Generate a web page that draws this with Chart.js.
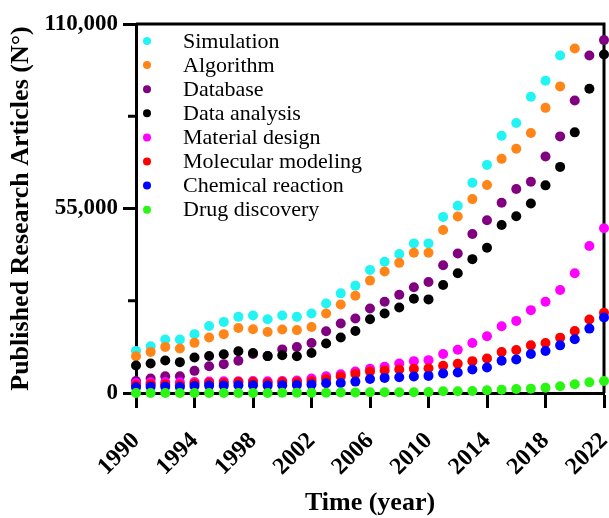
<!DOCTYPE html>
<html>
<head>
<meta charset="utf-8">
<script src="https://cdn.jsdelivr.net/npm/chart.js@4.4.1/dist/chart.umd.min.js"></script>
<style>
  html, body { margin: 0; padding: 0; background: #fff; }
  #wrap { width: 609px; height: 518px; }
</style>
</head>
<body>
<div id="wrap"><canvas id="grafico" width="609" height="518"></canvas></div>
<script>
// --- DATA ---
const YEARS = [1990, 1991, 1992, 1993, 1994, 1995, 1996, 1997, 1998, 1999, 2000,
  2001, 2002, 2003, 2004, 2005, 2006, 2007, 2008, 2009, 2010, 2011,
  2012, 2013, 2014, 2015, 2016, 2017, 2018, 2019, 2020, 2021, 2022];

const SIMULATION = [12550, 13950, 15950, 15950, 17550, 19950, 21200, 22700, 23100, 22000, 23100,
  22700, 23700, 26700, 29700, 32000, 36700, 39100, 41400, 44600, 44600, 52500,
  55800, 62700, 68000, 76700, 80500, 88300, 93100, 100600, 114000, 120000, 127000];
const ALGORITHM = [10950, 12250, 13750, 13250, 14950, 16550, 17550, 19400, 19000, 18200, 18950,
  18750, 19700, 23700, 26400, 29000, 33500, 36200, 38800, 41800, 41800, 48600,
  52600, 57800, 62000, 69800, 72800, 77500, 85000, 91400, 102700, 114000, 119000];
const DATABASE = [3600, 4300, 5000, 5000, 6600, 8000, 8600, 9600, 11600, 11000, 13000,
  13700, 14900, 18400, 20700, 22200, 25200, 27200, 29300, 31500, 33100, 38100,
  41600, 47400, 51500, 56700, 60800, 63000, 70500, 76500, 87200, 100600, 105200];
const DATA_ANALYSIS = [8200, 8800, 9700, 9200, 10600, 11050, 11550, 12450, 11950, 11000, 11250,
  10950, 11950, 14750, 16550, 18500, 22000, 23700, 25500, 28100, 27900, 32200,
  35700, 39900, 43300, 50100, 52700, 56500, 61900, 67400, 77700, 90700, 100900];
const MATERIAL_DESIGN = [3000, 3200, 3300, 3200, 3300, 3400, 3500, 3500, 3600, 3500, 3600,
  3700, 4300, 5000, 5600, 6400, 7200, 7800, 8800, 9500, 9800, 11600,
  12900, 14900, 16900, 19900, 21500, 24700, 27200, 30700, 35700, 43800, 49100];
const MOLECULAR_MODELING = [2300, 2600, 2500, 2300, 2800, 3000, 3000, 3300, 3300, 3000, 3300,
  3300, 3500, 4200, 4900, 5700, 6400, 6700, 7000, 7200, 7400, 8100,
  8700, 9500, 10300, 12200, 12800, 14200, 14900, 16500, 18500, 21900, 23900];
const CHEMICAL_REACTION = [1700, 1900, 1900, 1800, 2100, 2200, 2200, 2300, 2300, 2200, 2300,
  2400, 2500, 2900, 3000, 3400, 4200, 4500, 4700, 4900, 5100, 5800,
  6100, 7000, 7600, 9600, 10000, 11600, 12500, 14200, 16000, 19200, 22500];
const DRUG_DISCOVERY = [0, 0, 0, 0, 0, 0, 0, 0, 0, 0, 50,
  50, 80, 100, 150, 150, 200, 200, 250, 250, 300, 500,
  500, 600, 800, 1000, 1200, 1300, 1600, 2000, 2600, 3200, 3600];

const SERIES_LABELS = ['Simulation', 'Algorithm', 'Database', 'Data analysis',
  'Material design', 'Molecular modeling', 'Chemical reaction', 'Drug discovery'];
const SERIES_VALUES = [SIMULATION, ALGORITHM, DATABASE, DATA_ANALYSIS,
  MATERIAL_DESIGN, MOLECULAR_MODELING, CHEMICAL_REACTION, DRUG_DISCOVERY];
const SERIES_COLORS = ['#22F4F4', '#FF8519', '#800080', '#000000',
  '#FF00FF', '#FF0000', '#0000FF', '#2BF512'];
// ordem de desenho (menor = por cima)
const SERIES_ORDER = [8, 7, 6, 5, 4, 3, 2, 1];

const Y_TICKS_MAIN = [0, 55000, 110000];
const X_MIN = 1990, X_MAX = 2022, X_STEP = 4;
const Y_MIN = 0, Y_MAX = 110000, Y_STEP = 27500;

const FONTE = "'Liberation Serif', 'Times New Roman', serif";
Chart.defaults.font.family = FONTE;
Chart.defaults.color = '#000';

function formatarNumero(v) {
  return v.toLocaleString('en-US');
}

// --- PLUGINS ---
const caixaPlugin = {
  id: 'caixa',
  beforeDatasetsDraw(chart) {
    const { ctx, chartArea: a, scales } = chart;
    ctx.save();
    ctx.strokeStyle = '#000';
    ctx.lineWidth = 3;
    ctx.beginPath();
    ctx.moveTo(a.left, a.top);
    ctx.lineTo(a.right, a.top);
    ctx.lineTo(a.right, a.bottom);
    ctx.stroke();
    // ticks menores do eixo y
    const y = scales.y;
    y.ticks.forEach(t => {
      if (Y_TICKS_MAIN.includes(t.value)) return;
      const py = y.getPixelForValue(t.value);
      ctx.beginPath();
      ctx.moveTo(a.left - 8, py);
      ctx.lineTo(a.left, py);
      ctx.stroke();
    });
    ctx.restore();
  }
};

const legendaPlugin = {
  id: 'legenda',
  afterDraw(chart) {
    const { ctx } = chart;
    ctx.save();
    ctx.font = '22px ' + FONTE;
    ctx.textBaseline = 'middle';
    chart.data.datasets.forEach((ds, i) => {
      const yy = 41 + i * 24.1;
      ctx.fillStyle = ds.backgroundColor;
      ctx.beginPath();
      ctx.arc(147, yy, 4, 0, Math.PI * 2);
      ctx.fill();
      ctx.fillStyle = '#000';
      ctx.fillText(ds.label, 183, yy + 1);
    });
    ctx.restore();
  }
};

// --- GRÁFICO ---
const datasets = SERIES_LABELS.map((label, i) => ({
  label: label,
  data: YEARS.map((ano, j) => ({ x: ano, y: SERIES_VALUES[i][j] })),
  backgroundColor: SERIES_COLORS[i],
  borderColor: SERIES_COLORS[i],
  borderWidth: 0,
  pointRadius: 5,
  showLine: false,
  order: SERIES_ORDER[i],
  clip: { left: 10, right: 10, top: 0, bottom: 10 }
}));

new Chart(document.getElementById('grafico'), {
  type: 'scatter',
  data: { datasets: datasets },
  options: {
    responsive: false,
    animation: false,
    devicePixelRatio: 1,
    layout: { padding: { top: 24, right: 5, left: 0, bottom: 0 } },
    plugins: {
      legend: { display: false },
      tooltip: { enabled: false }
    },
    scales: {
      x: {
        type: 'linear',
        min: X_MIN,
        max: X_MAX,
        afterFit: s => { s.height = 125; s.paddingLeft = 0; s.paddingRight = 0; },
        afterBuildTicks: s => {
          s.ticks = [];
          for (let v = X_MIN; v <= X_MAX; v += X_STEP) s.ticks.push({ value: v });
        },
        border: { color: '#000', width: 3 },
        grid: { drawOnChartArea: false, drawTicks: true, tickLength: 15, tickWidth: 3, tickColor: '#000' },
        ticks: {
          minRotation: 45,
          maxRotation: 45,
          padding: 19,
          color: '#000',
          font: { size: 24, weight: 'bold' },
          callback: v => String(v)
        },
        title: {
          display: true,
          text: 'Time (year)',
          color: '#000',
          font: { size: 26, weight: 'bold', lineHeight: 1.1 },
          padding: { top: 0, bottom: 0 }
        }
      },
      y: {
        min: Y_MIN,
        max: Y_MAX,
        afterFit: s => { s.width = 136; s.paddingTop = 0; s.paddingBottom = 0; },
        afterBuildTicks: s => {
          s.ticks = [];
          for (let v = Y_MIN; v <= Y_MAX; v += Y_STEP) s.ticks.push({ value: v });
        },
        border: { color: '#000', width: 3 },
        grid: {
          drawOnChartArea: false,
          drawTicks: true,
          tickLength: 13,
          tickWidth: 3,
          tickColor: ctx => Y_TICKS_MAIN.includes(ctx.tick.value) ? '#000' : 'rgba(0,0,0,0)'
        },
        ticks: {
          padding: 5,
          color: '#000',
          font: { size: 23, weight: 'bold' },
          callback: v => Y_TICKS_MAIN.includes(v) ? formatarNumero(v) : ''
        },
        title: {
          display: true,
          text: 'Published Research Articles (N°)',
          color: '#000',
          font: { size: 26, weight: 'bold' },
          padding: { top: 6, bottom: 0 }
        }
      }
    }
  },
  plugins: [caixaPlugin, legendaPlugin]
});
</script>
</body>
</html>
